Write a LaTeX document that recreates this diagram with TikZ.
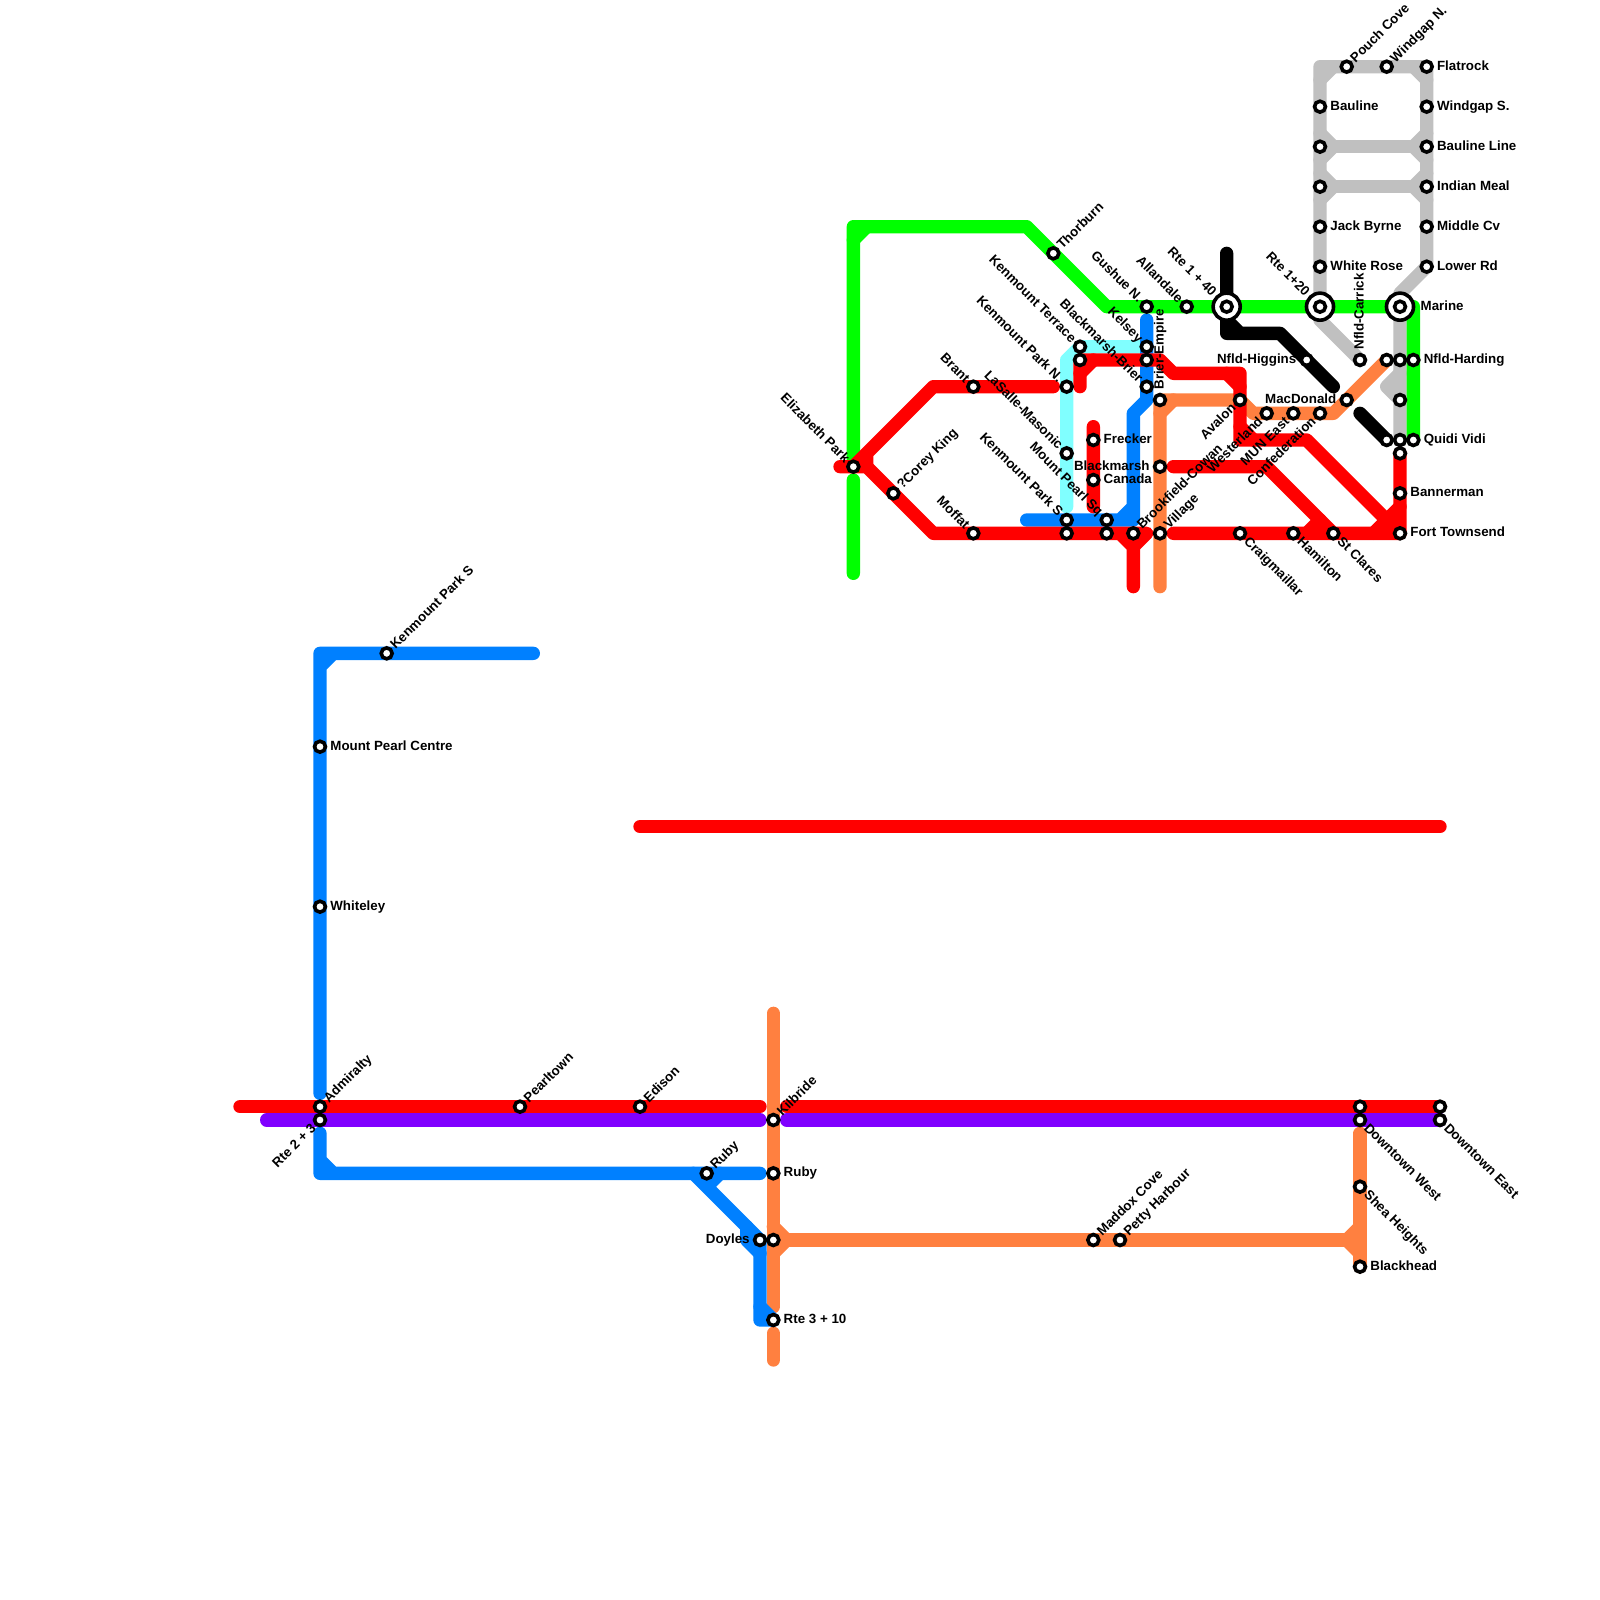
\documentclass[tikz,border=0pt]{standalone}
\usepackage{fontspec}
\setmainfont{Liberation Sans}[BoldFont={Liberation Sans Bold}]
\usetikzlibrary{backgrounds}
\definecolor{mred}{HTML}{FF0000}
\definecolor{mgreen}{HTML}{00FF00}
\definecolor{mblue}{HTML}{0080FF}
\definecolor{morange}{HTML}{FF8040}
\definecolor{mpurple}{HTML}{8000FF}
\definecolor{mcyan}{HTML}{80FFFF}
\definecolor{mgray}{HTML}{C0C0C0}
\tikzset{
  rt/.style={line width=10bp,line cap=round,line join=round},
  stbox/.style={circle,draw=black,fill=white,line width=2.7bp,minimum size=8.2bp,inner sep=0pt,outer sep=0pt},
  bigbox/.style={circle,draw=black,fill=white,line width=2.7bp,minimum size=20.3bp,inner sep=0pt,outer sep=0pt},
  lab/.style={font=\bfseries\fontsize{10bp}{11bp}\selectfont,text=black,inner sep=0pt,outer sep=0pt,text height=7.2bp,text depth=0pt},
  lE/.style={anchor=west,xshift=7.8bp,yshift=0.9bp},
  lW/.style={anchor=east,xshift=-7.8bp,yshift=0.9bp},
  lNE/.style={rotate=45,anchor=west,xshift=6.6bp,yshift=0.6bp},
  lSE/.style={rotate=-45,anchor=west,xshift=6.6bp,yshift=0.6bp},
  lNW/.style={rotate=-45,anchor=east,xshift=-6.6bp,yshift=0.6bp},
  lSW/.style={rotate=45,anchor=east,xshift=-6.6bp,yshift=0.6bp},
  lN/.style={rotate=90,anchor=west,xshift=7.8bp,yshift=0.9bp},
  lEb/.style={anchor=west,xshift=15.5bp,yshift=0.9bp},
  lNWb/.style={rotate=-45,anchor=east,xshift=-13.5bp,yshift=0.6bp},
}
\newcommand{\stn}[2]{\node[stbox] (#1) at (#2) {};}
\newcommand{\bigstn}[2]{\node[bigbox] (#1o) at (#2) {}; \node[stbox] (#1) at (#2) {};}
\newcommand{\lab}[3]{\node[lab,#2] (#1-l) at (#1.center) {#3};}
\begin{document}
\begin{tikzpicture}[x=10bp,y=-10bp]
\useasboundingbox (0,0) rectangle (120,120);
% bends
\foreach \a/\b in {18/83,20/84,57/83,57/84,59/83,59/84,24/82,24/85,24/87,24/88,25/88,24/49,24/50,25/49,40/49,
 48/62,108/62,52/88,54/88,53/89,57/88,57/93,57/99,57/98,56/92,56/93,57/94,
 58/76,58/98,58/100,58/102,58/92,58/94,59/93,101/93,102/92,102/94,102/93,102/85,
 64/36,64/43,64/17,64/18,65/17,77/17,83/23,106/23,
 63/35,65/34,65/35,70/40,70/29,79/29,86/40,85/41,85/44,84/40,
 81/27,81/29,81/28,82/27,87/27,88/28,93/28,92/28,93/29,82/32,82/38,
 88/40,88/35,95/35,100/40,98/40,99/39,93/32,93/33,94/33,98/33,103/40,105/38,
 80/38,80/27,81/26,86/24,86/30,85/31,85/38,85/39,84/39,77/39,
 87/44,87/31,87/30,88/30,94/31,100/31,92/19,92/24,92/25,93/25,96/25,100/29,102/31,
 99/24,99/5,99/6,100/5,107/5,106/5,107/6,105/22,105/28,104/29,
 99/10,99/12,100/11,106/11,107/10,107/12,99/13,99/15,100/14,106/14,107/13,107/15}
 {\coordinate (p\a-\b) at (\a,\b);}
% stations, far left and south
\stn{kps}{29,49}\stn{mpc}{24,56}\stn{whi}{24,68}\stn{adm}{24,83}\stn{rtb}{24,84}
\stn{pea}{39,83}\stn{edi}{48,83}\stn{kil}{58,84}\stn{rul}{53,88}\stn{rur}{58,88}
\stn{doy}{57,93}\stn{oj}{58,93}\stn{rtc}{58,99}\stn{mad}{82,93}\stn{pet}{84,93}
\stn{dwa}{102,83}\stn{dwb}{102,84}\stn{dea}{108,83}\stn{deb}{108,84}\stn{she}{102,89}\stn{bla}{102,95}
% north west
\stn{eli}{64,35}\stn{cor}{67,37}\stn{tho}{79,19}\stn{bra}{73,29}\stn{mof}{73,40}
\stn{kpn}{80,29}\stn{las}{80,34}\stn{kpa}{80,39}\stn{kpb}{80,40}\stn{mpa}{83,39}\stn{mpb}{83,40}
\stn{ket}{81,26}\stn{keb}{81,27}\stn{kel}{86,26}\stn{kec}{86,27}\stn{blb}{86,29}\stn{bre}{87,30}
\stn{fre}{82,33}\stn{can}{82,36}\stn{bma}{87,35}\stn{bro}{85,40}\stn{vil}{87,40}
\stn{gus}{86,23}\stn{all}{89,23}\bigstn{rfo}{92,23}\bigstn{rtw}{99,23}\bigstn{mar}{105,23}
% east
\stn{ava}{93,30}\stn{wes}{95,31}\stn{mun}{97,31}\stn{con}{99,31}\stn{mac}{101,30}
\stn{hig}{98,27}\stn{car}{102,27}\stn{hao}{104,27}\stn{hag}{105,27}\stn{har}{106,27}
\stn{gth}{105,30}\stn{qvb}{104,33}\stn{qvg}{105,33}\stn{qvi}{106,33}\stn{rtp}{105,34}
\stn{ban}{105,37}\stn{for}{105,40}\stn{cra}{93,40}\stn{ham}{97,40}\stn{stc}{100,40}
\stn{bau}{99,8}\stn{gla}{99,11}\stn{glb}{99,14}\stn{jac}{99,17}\stn{whr}{99,20}
\stn{pou}{101,5}\stn{wgn}{104,5}\stn{fla}{107,5}\stn{wgs}{107,8}\stn{bal}{107,11}
\stn{ind}{107,14}\stn{mid}{107,17}\stn{low}{107,20}
% lines
\begin{pgfonlayer}{background}
\fill[white] (0,0) rectangle (120,120);
\draw[rt,mcyan] (p80-38)--(p80-27)--(p81-26)--(kel.center);
\draw[rt,mgray] (car.center)--(p99-24)--(p99-5)--(p107-5)--(low.center)--(p105-22)--(qvg.center);
\draw[rt,mgray] (gla.center)--(bal.center) (glb.center)--(ind.center);
\draw[rt,mgray] (p99-6)--(p100-5) (p106-5)--(p107-6) (p99-10)--(p100-11)--(p99-12)
  (p107-10)--(p106-11)--(p107-12) (p99-13)--(p100-14)--(p99-15) (p107-13)--(p106-14)--(p107-15);
\draw[rt,mgray] (p105-28)--(p104-29)--(gth.center);
\draw[rt,mgreen] (eli.center)--(p64-17)--(p77-17)--(p83-23)--(p106-23)--(qvi.center);
\draw[rt,mgreen] (p64-18)--(p65-17) (p64-36)--(p64-43);
\draw[rt,morange] (p58-76)--(p58-98) (p58-100)--(p58-102);
\draw[rt,morange] (oj.center)--(p102-93) (p102-85)--(bla.center);
\draw[rt,morange] (p58-92)--(p59-93)--(p58-94) (p102-92)--(p101-93)--(p102-94);
\draw[rt,morange] (p87-44)--(p87-30)--(ava.center)--(p94-31)--(p100-31)--(hao.center);
\draw[rt,morange] (p87-31)--(p88-30);
\draw[rt,mblue] (p40-49)--(p24-49)--(p24-82) (p24-50)--(p25-49);
\draw[rt,mblue] (p24-85)--(p24-88)--(p57-88) (p24-87)--(p25-88);
\draw[rt,mblue] (p52-88)--(p57-93)--(p57-99)--(rtc.center) (p54-88)--(p53-89);
\draw[rt,mblue] (p56-92)--(p56-93)--(p57-94) (p56-93)--(p57-93) (p57-98)--(rtc.center);
\draw[rt,mblue] (p77-39)--(p85-39)--(p85-31)--(p86-30)--(p86-24) (p84-39)--(p85-38);
\draw[rt,mpurple] (p20-84)--(p57-84) (p59-84)--(deb.center);
\draw[rt,mred] (p18-83)--(p57-83) (p59-83)--(dea.center) (p48-62)--(p108-62);
\draw[rt,mred] (p63-35)--(p65-35)--(p70-40)--(p86-40)--(p85-41)--(p85-44) (p84-40)--(p85-41);
\draw[rt,mred] (eli.center)--(p70-29)--(p79-29) (p65-34)--(p65-35);
\draw[rt,mred] (p81-29)--(p81-27)--(p87-27)--(p88-28)--(p93-28)--(p93-33)--(p98-33)--(for.center);
\draw[rt,mred] (p81-28)--(p82-27) (p92-28)--(p93-29) (p93-32)--(p94-33) (p82-32)--(p82-38);
\draw[rt,mred] (p88-40)--(for.center)--(rtp.center) (p88-35)--(p95-35)--(p100-40);
\draw[rt,mred] (p98-40)--(p99-39) (p103-40)--(p105-38);
\draw[rt,black] (p92-19)--(p92-25)--(p96-25)--(p100-29) (p92-24)--(p93-25) (p102-31)--(qvb.center);
\end{pgfonlayer}
% labels
\lab{kps}{lNE}{Kenmount Park S}\lab{mpc}{lE}{Mount Pearl Centre}\lab{whi}{lE}{Whiteley}
\lab{adm}{lNE}{Admiralty}\lab{rtb}{lSW}{Rte 2 + 3}\lab{pea}{lNE}{Pearltown}\lab{edi}{lNE}{Edison}
\lab{kil}{lNE}{Kilbride}\lab{rul}{lNE}{Ruby}\lab{rur}{lE}{Ruby}\lab{doy}{lW}{Doyles}\lab{rtc}{lE}{Rte 3 + 10}
\lab{mad}{lNE}{Maddox Cove}\lab{pet}{lNE}{Petty Harbour}\lab{dwb}{lSE}{Downtown West}\lab{deb}{lSE}{Downtown East}
\lab{she}{lSE}{Shea Heights}\lab{bla}{lE}{Blackhead}
\lab{eli}{lNW}{Elizabeth Park}\lab{cor}{lNE}{?Corey King}\lab{tho}{lNE}{Thorburn}\lab{bra}{lNW}{Brant}\lab{mof}{lNW}{Moffat}
\lab{kpn}{lNW}{Kenmount Park N.}\lab{las}{lNW}{LaSalle-Masonic}\lab{kpa}{lNW}{Kenmount Park S}\lab{mpa}{lNW}{Mount Pearl Sq}
\lab{ket}{lNW}{Kenmount Terrace}\lab{kel}{lNW}{Kelsey}\lab{blb}{lNW}{Blackmarsh-Brier}\lab{bre}{lN}{Brier-Empire}
\lab{fre}{lE}{Frecker}\lab{can}{lE}{Canada}\lab{bma}{lW}{Blackmarsh}\lab{bro}{lNE}{Brookfield-Cowan}\lab{vil}{lNE}{Village}
\lab{gus}{lNW}{Gushue N.}\lab{all}{lNW}{Allandale}\lab{rfo}{lNWb}{Rte 1 + 40}\lab{rtw}{lNWb}{Rte 1+20}\lab{mar}{lEb}{Marine}
\lab{ava}{lSW}{Avalon}\lab{wes}{lSW}{Westerland}\lab{mun}{lSW}{MUN East}\lab{con}{lSW}{Confederation}\lab{mac}{lW}{MacDonald}
\lab{hig}{lW}{Nfld-Higgins}\lab{car}{lN}{Nfld-Carrick}\lab{har}{lE}{Nfld-Harding}\lab{qvi}{lE}{Quidi Vidi}
\lab{ban}{lE}{Bannerman}\lab{for}{lE}{Fort Townsend}\lab{cra}{lSE}{Craigmaillar}\lab{ham}{lSE}{Hamilton}\lab{stc}{lSE}{St Clares}
\lab{bau}{lE}{Bauline}\lab{jac}{lE}{Jack Byrne}\lab{whr}{lE}{White Rose}\lab{pou}{lNE}{Pouch Cove}\lab{wgn}{lNE}{Windgap N.}
\lab{fla}{lE}{Flatrock}\lab{wgs}{lE}{Windgap S.}\lab{bal}{lE}{Bauline Line}\lab{ind}{lE}{Indian Meal}\lab{mid}{lE}{Middle Cv}\lab{low}{lE}{Lower Rd}
\end{tikzpicture}
\end{document}
